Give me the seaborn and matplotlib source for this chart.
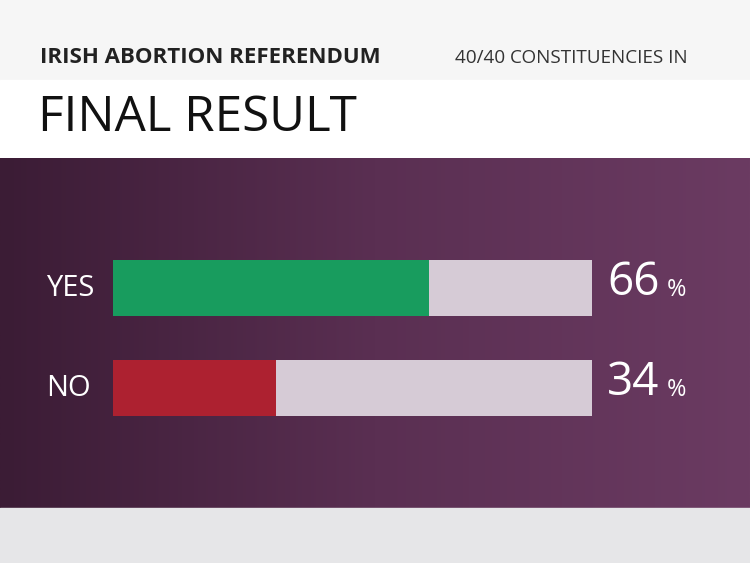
import numpy as np
import pandas as pd
import matplotlib
matplotlib.use("Agg")
import matplotlib.pyplot as plt
import seaborn as sns
from matplotlib.colors import LinearSegmentedColormap

categories = ["YES", "NO"]
values = [66, 34]
totals = [100, 100]
title_small = "IRISH ABORTION REFERENDUM"
subtitle_right = "40/40 CONSTITUENCIES IN"
title_big = "FINAL RESULT"

fig = plt.figure(figsize=(7.5, 5.63), dpi=100)
fig.patch.set_facecolor("white")

bg = fig.add_axes([0, 0, 1, 1])
bg.axis("off")
bg.add_patch(plt.Rectangle((0, 0), 750, 80, color="#f6f6f6"))
bg.add_patch(plt.Rectangle((0, 80), 750, 78, color="white"))
cmap = LinearSegmentedColormap.from_list("p", ["#3b1c35", "#5a2f52", "#6b3b62"])
grad = np.linspace(0, 1, 256)[None, :]
bg.imshow(grad, extent=[0, 750, 508, 158], cmap=cmap, aspect="auto", zorder=1)
bg.add_patch(plt.Rectangle((0, 508), 750, 55, color="#e6e6e8", zorder=1))
bg.set_xlim(0, 750); bg.set_ylim(563, 0)

fig.text(40/750, 1-58/563, title_small, fontsize=16, fontweight="bold", color="#222222",
         family="Open Sans", va="center")
fig.text(455/750, 1-58/563, subtitle_right, fontsize=13.6, color="#333333",
         family="Open Sans", va="center")
fig.text(38/750, 1-118/563, title_big, fontsize=35.5, color="#111111",
         family="Open Sans", va="center")

df = pd.DataFrame({"cat": categories, "val": values, "tot": totals})
ax = fig.add_axes([113/750, 1-436/563, 479/750, 196/563])
sns.barplot(data=df, y="cat", x="tot", color="#d6cbd6", width=0.56, ax=ax, saturation=1, orient="h")
sns.barplot(data=df, y="cat", x="val", hue="cat", palette=["#189c5e", "#ad2130"],
            width=0.56, ax=ax, saturation=1, legend=False, orient="h")
ax.set_xlim(0, 100); ax.set_ylim(1.48, -0.48)
ax.axis("off")

for i, (c, v) in enumerate(zip(categories, values)):
    fig.text(46/750, 1-(288+100*i)/563, c, fontsize=21, color="white",
             family="Open Sans", va="center")
    ax.text(103.2, i - 0.05, f"{v}", fontsize=33, color="white", family="Open Sans",
            va="center", ha="left")
    ax.text(115.6, i + 0.02, "%", fontsize=17, color="white", family="Open Sans",
            va="center", ha="left")

fig.savefig("out.png", dpi=100)
